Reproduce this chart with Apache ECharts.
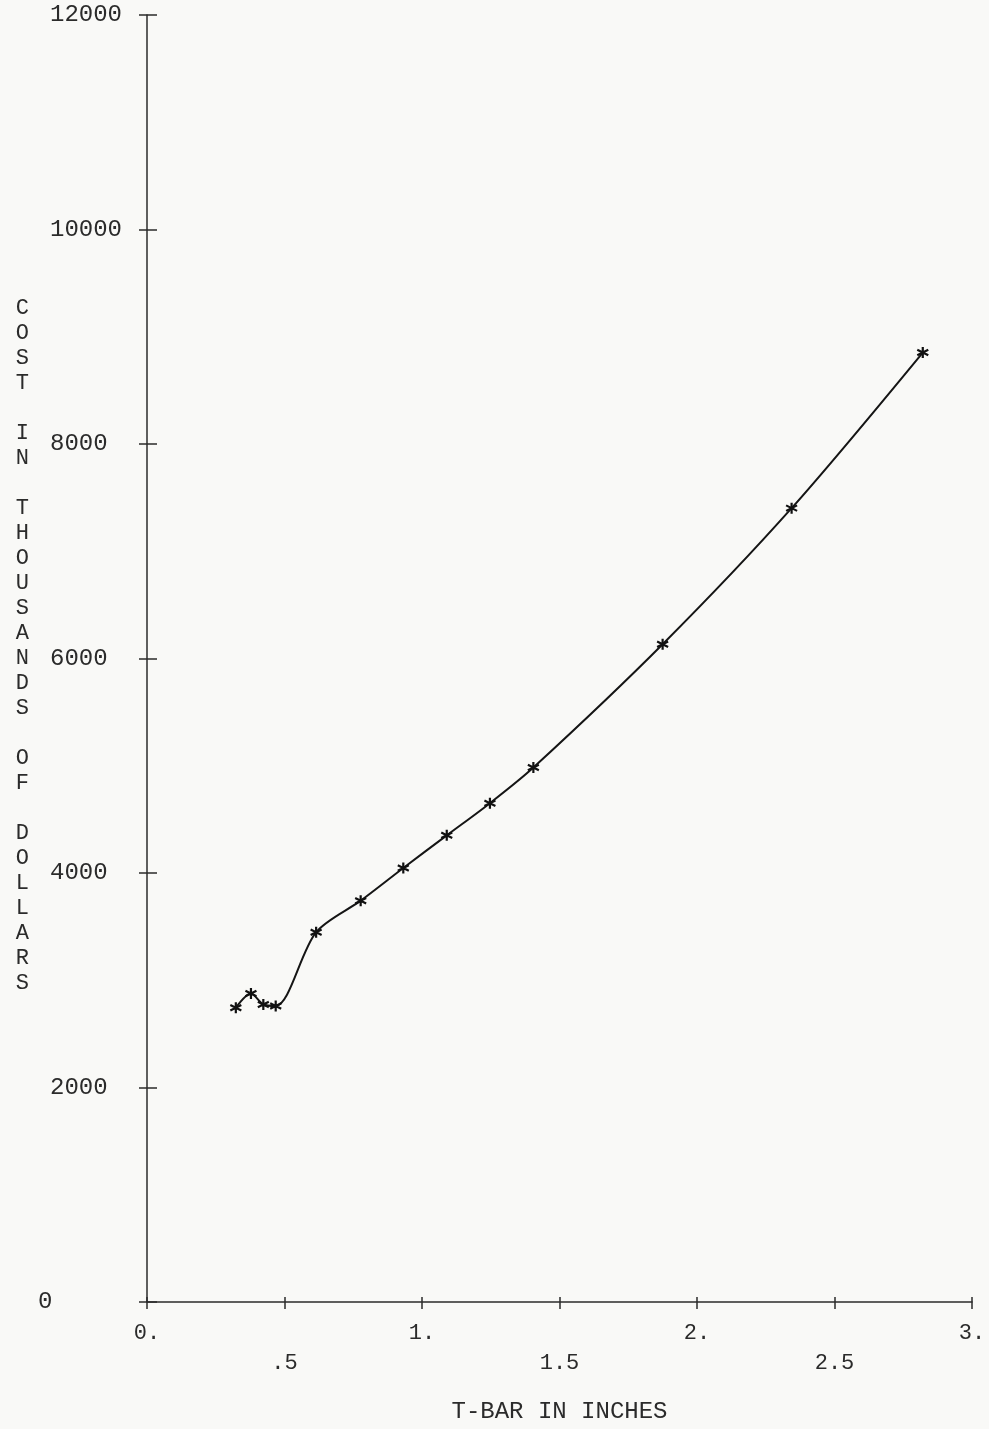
<!DOCTYPE html>
<html>
<head>
<meta charset="utf-8">
<script src="https://cdn.jsdelivr.net/npm/echarts@6/dist/echarts.min.js"></script>
<style>
html,body{margin:0;padding:0;background:#f9f9f7;}
#chart{width:989px;height:1429px;}
</style>
</head>
<body>
<div id="chart"></div>
<script>
// T-bar thickness in inches
var tbar = [0.323, 0.378, 0.423, 0.468, 0.615, 0.777, 0.932, 1.090, 1.247, 1.405, 1.875, 2.344, 2.821];
// Cost in thousands of dollars
var cost = [2744, 2877, 2774, 2760, 3448, 3742, 4047, 4351, 4651, 4983, 6133, 7402, 8853];
var xTickLabels = ['0.', '.5', '1.', '1.5', '2.', '2.5', '3.'];
var yTickLabels = ['0', '2000', '4000', '6000', '8000', '10000', '12000'];
var xTitle = 'T-BAR IN INCHES';
var yTitle = 'COST IN THOUSANDS OF DOLLARS';

var font = 'Liberation Mono';
var ink = '#2b2b2b';

// stacked vertical title; trailing empty line lifts the block slightly
var yNameText = yTitle.split('').map(function (c) { return c === ' ' ? '' : c; }).join('\n') + '\n ';

var data = tbar.map(function (x, i) { return [x, cost[i]]; });

var chart = echarts.init(document.getElementById('chart'), null, {renderer: 'canvas'});
chart.setOption({
  backgroundColor: '#f9f9f7',
  animation: false,
  grid: {left: 147, right: 17, top: 15, bottom: 124, containLabel: false},
  xAxis: [{
    type: 'value', min: 0, max: 3, interval: 0.5,
    position: 'bottom',
    axisLine: {show: true, onZero: false, lineStyle: {color: ink, width: 1.5}},
    axisTick: {show: true, length: 7, lineStyle: {color: ink, width: 1.5}},
    splitLine: {show: false},
    axisLabel: {
      margin: 20,
      color: ink,
      fontFamily: font,
      fontSize: 22,
      formatter: function (v) {
        var i = Math.round(v / 0.5);
        return (i % 2 === 0 ? '{a|' : '{b|') + xTickLabels[i] + '}';
      },
      rich: {
        a: {fontFamily: font, fontSize: 22, lineHeight: 22, color: ink},
        b: {fontFamily: font, fontSize: 22, lineHeight: 22, color: ink, padding: [60, 0, 0, 0]}
      }
    },
    name: xTitle,
    nameLocation: 'middle',
    nameGap: 98,
    nameTextStyle: {fontFamily: font, fontSize: 24, color: ink}
  }, {
    type: 'value', min: 0, max: 3, interval: 0.5,
    position: 'bottom',
    axisLine: {show: false, onZero: false},
    axisTick: {show: true, inside: true, length: 5, lineStyle: {color: ink, width: 1.5}},
    axisLabel: {show: false},
    splitLine: {show: false}
  }],
  yAxis: [{
    type: 'value', min: 0, max: 12000, interval: 2000,
    position: 'left',
    axisLine: {show: true, onZero: false, lineStyle: {color: ink, width: 1.5}},
    axisTick: {show: true, length: 8, lineStyle: {color: ink, width: 1.5}},
    splitLine: {show: false},
    axisLabel: {
      margin: 109,
      align: 'left',
      color: ink,
      fontFamily: font,
      fontSize: 24,
      formatter: function (v) {
        var i = Math.round(v / 2000);
        return (i === 0 ? '{z|' : '{n|') + yTickLabels[i] + '}';
      },
      rich: {
        z: {fontFamily: font, fontSize: 24, color: ink},
        n: {fontFamily: font, fontSize: 24, color: ink, padding: [0, 0, 0, 12]}
      }
    },
    name: yNameText,
    nameLocation: 'middle',
    nameRotate: 0,
    nameGap: 118,
    nameTextStyle: {fontFamily: font, fontSize: 22, lineHeight: 25, color: ink, align: 'right'}
  }, {
    type: 'value', min: 0, max: 12000, interval: 2000,
    position: 'left',
    axisLine: {show: false, onZero: false},
    axisTick: {show: true, inside: true, length: 10, lineStyle: {color: ink, width: 1.5}},
    axisLabel: {show: false},
    splitLine: {show: false}
  }],
  series: [{
    type: 'line',
    xAxisIndex: 0,
    yAxisIndex: 0,
    data: data,
    smooth: 0.3,
    lineStyle: {color: '#151515', width: 2},
    symbol: 'path://M0,-5L0,5M-4.33,-2.5L4.33,2.5M-4.33,2.5L4.33,-2.5',
    symbolSize: 11,
    showSymbol: true,
    itemStyle: {color: 'rgba(0,0,0,0)', borderColor: '#111', borderWidth: 2.2}
  }]
});
</script>
</body>
</html>
